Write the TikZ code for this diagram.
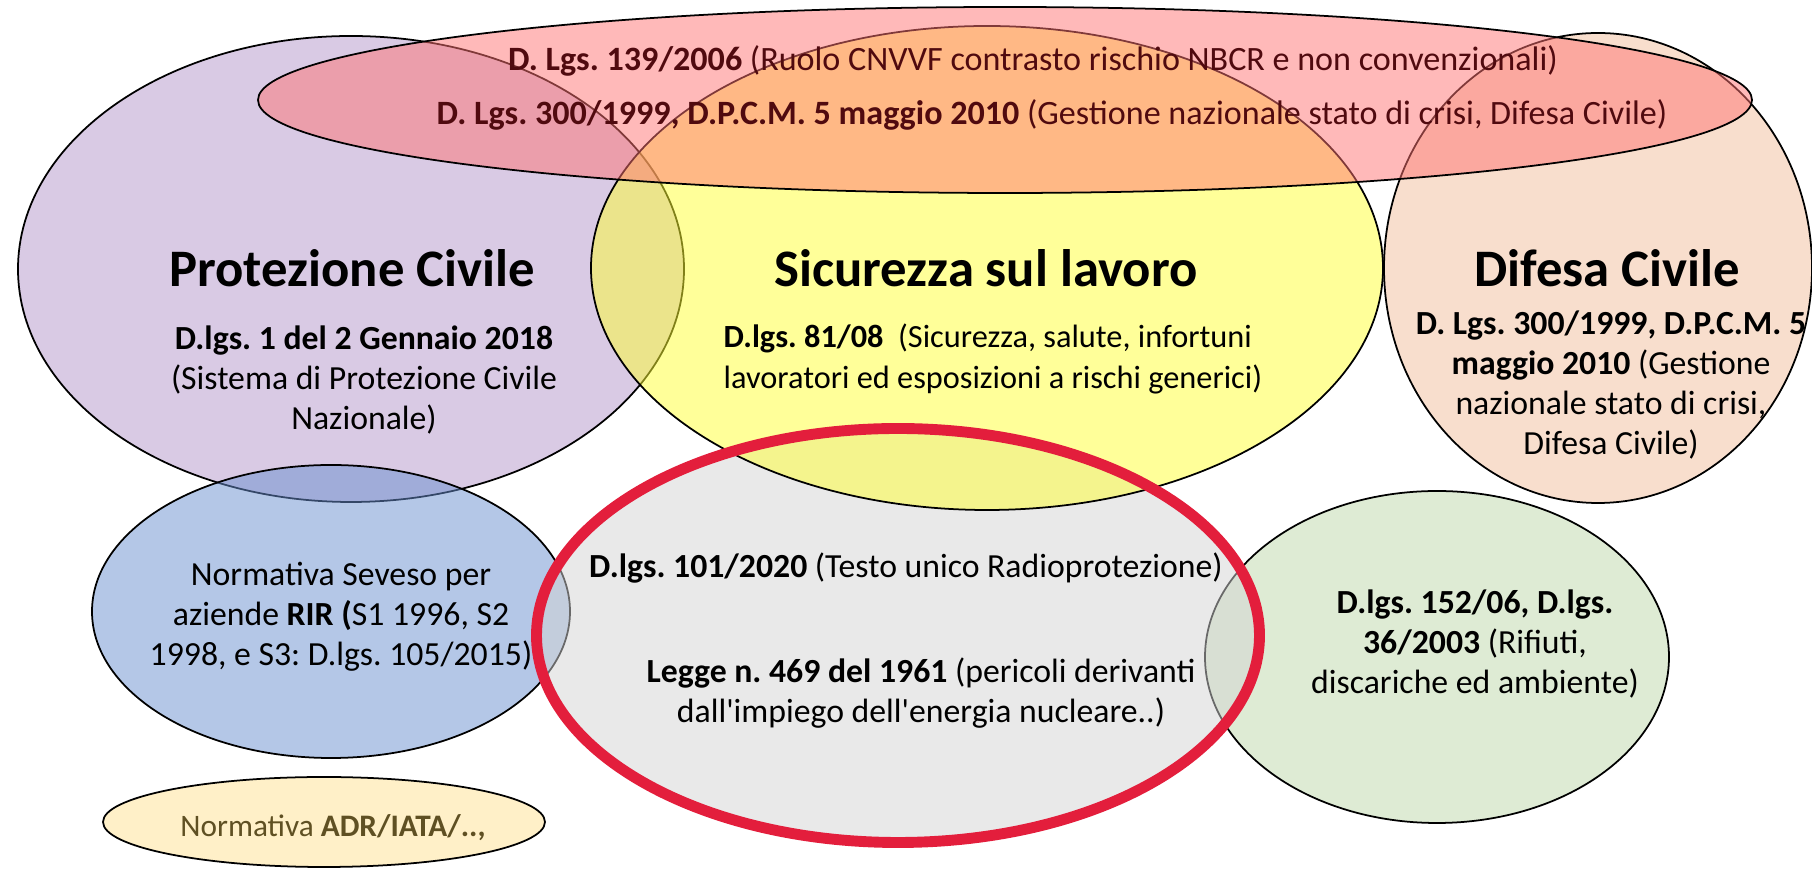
\documentclass[tikz,border=0pt]{standalone}
\usepackage{fontspec}
\setmainfont{Carlito}
\usepackage{tikz,xcolor}
\frenchspacing

\definecolor{pcfill}{RGB}{179,149,201}
\definecolor{nbcrfill}{RGB}{255,115,115}
\definecolor{slfill}{RGB}{255,255,51}
\definecolor{dcfill}{RGB}{241,189,155}
\definecolor{sevfill}{RGB}{105,143,207}
\definecolor{radfill}{RGB}{211,211,211}
\definecolor{envfill}{RGB}{189,215,169}
\definecolor{adrfill}{RGB}{255,225,145}
\definecolor{ringred}{RGB}{227,30,60}
\definecolor{nbcrtext}{RGB}{80,10,15}
\definecolor{adrtext}{RGB}{95,80,35}

\begin{document}
\begin{tikzpicture}[set/.style={draw=black, line width=0.5pt, fill opacity=0.5},
    ttl/.style={font=\fontsize{15}{18}\selectfont\bfseries, inner sep=0pt, anchor=base},
    txt/.style={font=\fontsize{9.6}{11.4}\selectfont, align=center, inner sep=0pt}]

    \useasboundingbox (0, 0) rectangle (18.12, 8.69);

    \draw [set, fill=pcfill] (3.51, 6.00) ellipse [x radius=3.33, y radius=2.33];
    \draw [set, fill=sevfill] (3.31, 2.575) ellipse [x radius=2.39, y radius=1.465];
    \draw [set, fill=envfill] (14.37, 2.12) ellipse [x radius=2.32, y radius=1.66];
    \fill [fill=radfill, fill opacity=0.5] (8.98, 2.335) ellipse [x radius=3.615, y radius=2.07];
    \draw [set, fill=slfill] (9.87, 6.01) ellipse [x radius=3.96, y radius=2.42];
    \draw [set, fill=dcfill] (15.98, 6.01) ellipse [x radius=2.14, y radius=2.35];
    \draw [set, fill=adrfill] (3.24, 0.47) ellipse [x radius=2.21, y radius=0.45];
    \draw [set, fill=nbcrfill] (10.05, 7.69) ellipse [x radius=7.47, y radius=0.93];
    \draw [draw=ringred, line width=3.1pt] (8.98, 2.335) ellipse [x radius=3.615, y radius=2.07];

    \node [txt, font=\fontsize{9.7}{11.4}\selectfont, anchor=base, text=nbcrtext] (n1) at (10.33, 7.98) {\textbf{D. Lgs. 139/2006} (Ruolo CNVVF contrasto rischio NBCR e non convenzionali)};
    \node [txt, font=\fontsize{9.7}{11.4}\selectfont, anchor=base, text=nbcrtext] (n2) at (10.52, 7.44) {\textbf{D. Lgs. 300/1999, D.P.C.M. 5 maggio 2010} (Gestione nazionale stato di crisi, Difesa Civile)};

    \node [ttl] (pc) at (3.52, 5.82) {Protezione Civile};
    \node [ttl] (sl) at (9.86, 5.82) {Sicurezza sul lavoro};
    \node [ttl] (dc) at (16.07, 5.82) {Difesa Civile};

    \node [txt] (pct) at (3.64, 4.89) {\textbf{D.lgs. 1 del 2 Gennaio 2018}\\(Sistema di Protezione Civile\\Nazionale)};
    \node [txt, font=\fontsize{9.2}{11.4}\selectfont, align=left, anchor=west] (slt) at (7.23, 5.10) {\textbf{D.lgs. 81/08}\ \ (Sicurezza, salute, infortuni\\lavoratori ed esposizioni a rischi generici)};
    \node [txt] (dct) at (16.11, 4.84) {\textbf{D. Lgs. 300/1999, D.P.C.M. 5}\\\textbf{maggio 2010} (Gestione\\nazionale stato di crisi,\\Difesa Civile)};

    \node [txt] (sev) at (3.41, 2.52) {Normativa Seveso per\\aziende \textbf{RIR (}S1 1996, S2\\1998, e S3: D.lgs. 105/2015)};
    \node [txt, anchor=base] (r1) at (9.06, 2.91) {\textbf{D.lgs. 101/2020} (Testo unico Radioprotezione)};
    \node [txt] (r2) at (9.21, 1.76) {\textbf{Legge n. 469 del 1961} (pericoli derivanti\\dall\textquotesingle impiego dell\textquotesingle energia nucleare..)};
    \node [txt] (env) at (14.75, 2.25) {\textbf{D.lgs. 152/06, D.lgs.}\\\textbf{36/2003} (Rifiuti,\\discariche ed ambiente)};
    \node [txt, font=\fontsize{8.9}{11.4}\selectfont, anchor=base, text=adrtext] (adr) at (3.33, 0.32) {Normativa \textbf{ADR/IATA/..,}};

\end{tikzpicture}
\end{document}
